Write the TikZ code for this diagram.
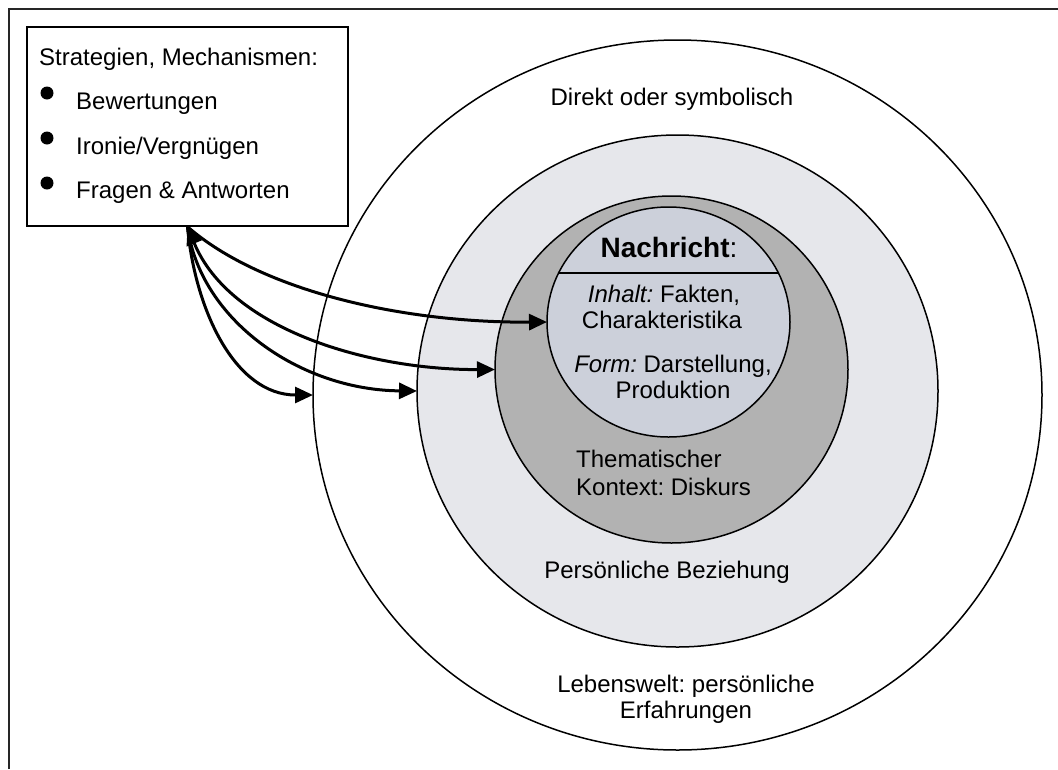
\documentclass[tikz,border=0pt]{standalone}
\usepackage{fontspec}
\setmainfont{Liberation Sans}
\usetikzlibrary{arrows.meta,shapes.geometric}
\definecolor{ringlight}{RGB}{230,231,235}
\definecolor{ringdark}{RGB}{178,178,178}
\definecolor{core}{RGB}{204,208,218}
\frenchspacing
\begin{document}
\begin{tikzpicture}[x=1pt,y=-1pt,
  txt/.style={font=\fontsize{24}{26}\selectfont, inner sep=0pt, anchor=base},
  txtl/.style={txt, anchor=base west},
  ring/.style={ellipse, draw=black, line width=1.5pt, inner sep=0pt, outer sep=0pt},
  listbox/.style={draw=black, line width=1.5pt, fill=white, inner sep=0pt},
  dot/.style={circle, fill=black, inner sep=0pt, minimum size=13pt},
  tip/.style={Triangle[length=18pt,width=16pt]},
  link/.style={line width=3pt, -{Triangle[length=18pt,width=16pt]}},
  linkboth/.style={line width=3pt, {Triangle[length=18pt,width=16pt]}-{Triangle[length=18pt,width=16pt]}},
  frame/.style={line width=2pt, draw=black!85}]
\useasboundingbox (0,0) rectangle (1058,769);
\fill[white] (0,0) rectangle (1058,769);
% page frame (top and left edges)
\draw[frame] (9,769) -- (9,9) -- (1058,9);

% nested rings
\node[ring, fill=white, minimum width=729pt, minimum height=710pt] (world) at (677.5,395) {};
\node[ring, fill=ringlight, minimum width=521pt, minimum height=512pt] (relation) at (677.5,391) {};
\node[ring, fill=ringdark, minimum width=353pt, minimum height=347pt] (topic) at (671.5,369.5) {};
\node[ring, fill=core, minimum width=243pt, minimum height=230pt] (message) at (668.5,322) {};
\draw[line width=1.5pt] (message.156) -- (message.24);

% ring labels
\node[txt] (symbolic) at (672,105) {Direkt oder symbolisch};
\node[txt, font=\fontsize{28}{30}\selectfont] (title) at (669,257) {\textbf{Nachricht}:};
\node[txt] (content1) at (664,302) {\textit{Inhalt:} Fakten,};
\node[txt] (content2) at (662,328) {Charakteristika};
\node[txt] (form1) at (673,372) {\textit{Form:} Darstellung,};
\node[txt] (form2) at (673,398) {Produktion};
\node[txtl] (theme1) at (576,467) {Thematischer};
\node[txtl] (theme2) at (576,495) {Kontext: Diskurs};
\node[txt] (personal) at (667,578) {Persönliche Beziehung};
\node[txt] (life1) at (686,692) {Lebenswelt: persönliche};
\node[txt] (life2) at (686,718) {Erfahrungen};

% strategies box
\node[listbox, minimum width=321pt, minimum height=199pt] (strat) at (187.5,126.5) {};
\node[txtl] (strathead) at (39,65) {Strategien, Mechanismen:};
\node[dot] (d1) at (47,93) {};
\node[dot] (d2) at (47,138) {};
\node[dot] (d3) at (47,183) {};
\node[txtl] (item1) at (76,109) {Bewertungen};
\node[txtl] (item2) at (76,154) {Ironie/Vergnügen};
\node[txtl] (item3) at (76,198) {Fragen \& Antworten};

% connectors from the box to each ring
\coordinate (hub) at (strat.south);
\draw[link] (hub) .. controls (260,290) and (400,323) .. (message.west);
\draw[linkboth] (hub) .. controls (230,330) and (370,370) .. (topic.west);
\draw[link] (hub) .. controls (200,320) and (300,390) .. (relation.west);
\draw[link] (hub) .. controls (195,310) and (235,395) .. (world.west);
\end{tikzpicture}
\end{document}
